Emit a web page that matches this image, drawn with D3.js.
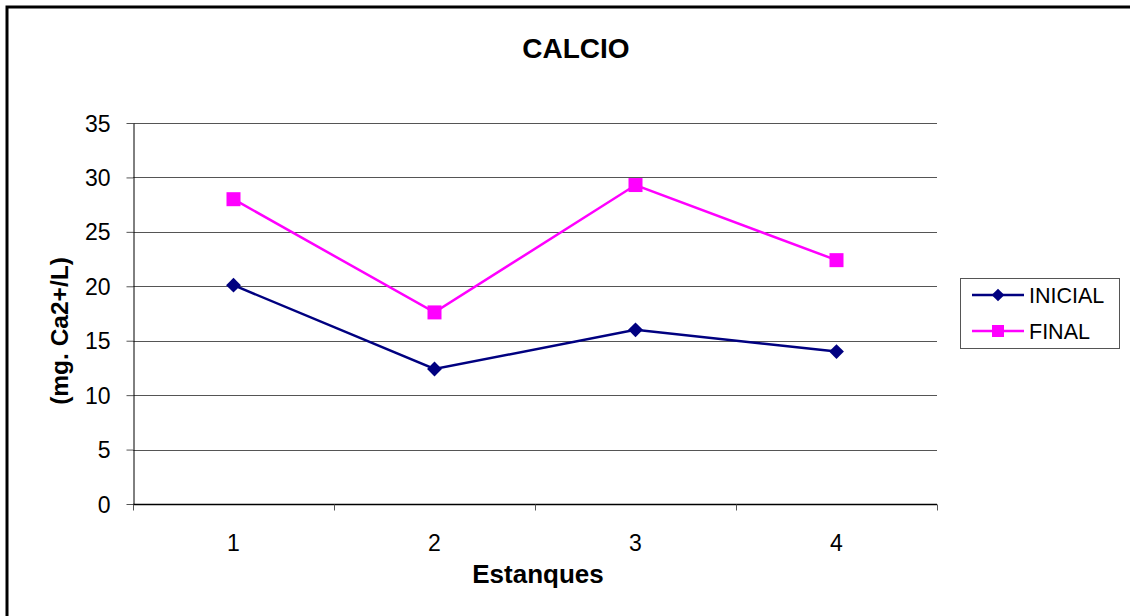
<!DOCTYPE html>
<html><head><meta charset="utf-8">
<script src="https://cdn.jsdelivr.net/npm/d3@7"></script>
<style>body{margin:0;background:#fff}svg{display:block;font-family:"Liberation Sans",Arial,sans-serif}</style>
</head><body>
<svg id="c" width="1130" height="616"></svg>
<script>
const categories = ["1", "2", "3", "4"];
const inicial = [20.1, 12.4, 16.0, 14.0];
const final = [28.0, 17.6, 29.3, 22.4];
const yTicks = [0, 5, 10, 15, 20, 25, 30, 35];
const seriesNames = ["INICIAL", "FINAL"];
const colors = ["#000080", "#FF00FF"];

const svg = d3.select("#c");
svg.append("rect").attr("x",7).attr("y",7).attr("width",1140).attr("height",640)
  .attr("fill","#fff").attr("stroke","#000").attr("stroke-width",3);

const L=133,R=937,T=123,B=504;
const x = d3.scaleBand().domain(categories).range([L,R]);
const y = d3.scaleLinear().domain([0,35]).range([B,T]);

// gridlines
svg.append("g").selectAll("line").data(yTicks.filter(d=>d>0)).join("line")
  .attr("x1",L).attr("x2",R).attr("y1",d=>Math.round(y(d))+0.5).attr("y2",d=>Math.round(y(d))+0.5)
  .attr("stroke","#555").attr("stroke-width",1);

// y axis
const ya = svg.append("g").attr("transform",`translate(${L+0.5},0)`)
  .call(d3.axisLeft(y).tickValues(yTicks).tickSize(7).tickPadding(16).tickSizeOuter(0));
ya.attr("font-family",null).attr("font-size",null);
ya.select(".domain").attr("stroke","#000");
ya.selectAll(".tick line").attr("stroke","#555");
ya.selectAll("text").attr("font-size",23).attr("fill","#000").attr("dy","0.35em");

// x axis
const xa = svg.append("g").attr("transform",`translate(0,${B+0.5})`);
xa.append("line").attr("x1",L).attr("x2",R).attr("stroke","#000").attr("stroke-width",1.5);
const edges = categories.map(c=>x(c)).concat([R]);
xa.selectAll("line.t").data(edges).join("line").attr("class","t")
  .attr("x1",d=>d+0.5).attr("x2",d=>d+0.5).attr("y1",0).attr("y2",6).attr("stroke","#555");
xa.selectAll("text").data(categories).join("text")
  .attr("x",d=>x(d)+x.bandwidth()/2).attr("y",46).attr("text-anchor","middle")
  .attr("font-size",23).text(d=>d);

// lines
const line = d3.line().x((d,i)=>x(categories[i])+x.bandwidth()/2).y(d=>y(d));
[inicial, final].forEach((data,k)=>{
  svg.append("path").datum(data).attr("d",line).attr("fill","none")
    .attr("stroke",colors[k]).attr("stroke-width",2.5);
});
// markers
svg.append("g").selectAll("path").data(inicial).join("path")
  .attr("d",d3.symbol(d3.symbolSquare, 110))
  .attr("transform",(d,i)=>`translate(${x(categories[i])+x.bandwidth()/2},${y(d)}) rotate(45)`)
  .attr("fill",colors[0]);
svg.append("g").selectAll("rect").data(final).join("rect")
  .attr("x",(d,i)=>x(categories[i])+x.bandwidth()/2-7).attr("y",d=>y(d)-7)
  .attr("width",14).attr("height",14).attr("fill",colors[1]);

// titles
svg.append("text").attr("x",576).attr("y",58).attr("text-anchor","middle")
  .attr("font-size",28).attr("font-weight","bold").text("CALCIO");
svg.append("text").attr("x",538).attr("y",583).attr("text-anchor","middle")
  .attr("font-size",26).attr("font-weight","bold").text("Estanques");
svg.append("text").attr("transform","translate(68,331) rotate(-90)").attr("text-anchor","middle")
  .attr("font-size",24.5).attr("font-weight","bold").text("(mg. Ca2+/L)");

// legend
const lg = svg.append("g");
lg.append("rect").attr("x",960.5).attr("y",278.5).attr("width",159).attr("height",70)
  .attr("fill","#fff").attr("stroke","#555");
seriesNames.forEach((n,k)=>{
  const yy = 295 + k*36;
  lg.append("line").attr("x1",972).attr("x2",1024).attr("y1",yy).attr("y2",yy)
    .attr("stroke",colors[k]).attr("stroke-width",2.5);
  if(k===0){
    lg.append("path").attr("d",d3.symbol(d3.symbolSquare,80))
      .attr("transform",`translate(998,${yy}) rotate(45)`).attr("fill",colors[k]);
  } else {
    lg.append("rect").attr("x",992).attr("y",yy-6).attr("width",12).attr("height",12).attr("fill",colors[k]);
  }
  lg.append("text").attr("x",1029).attr("y",yy+7.5).attr("font-size",21.5).text(n);
});
</script>
</body></html>
